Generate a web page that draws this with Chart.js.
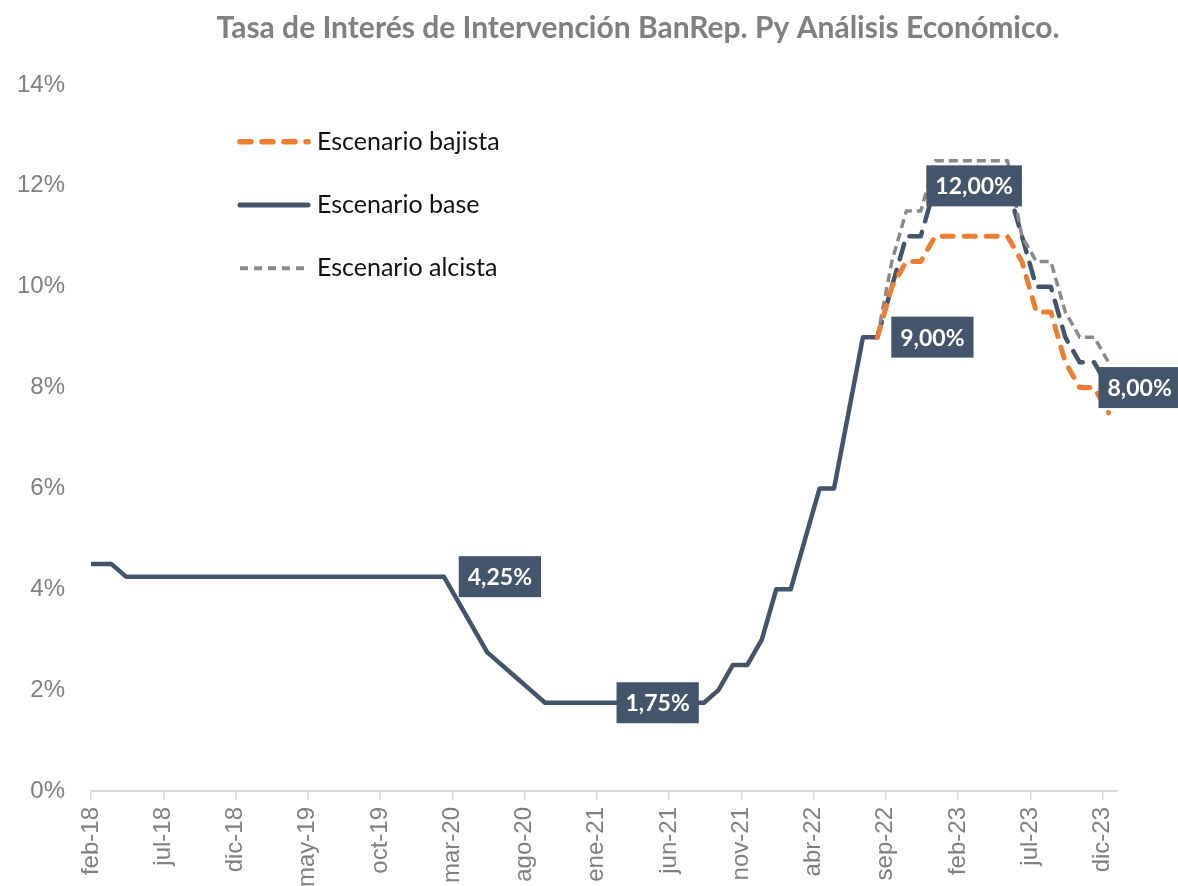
<!DOCTYPE html>
<html lang="es">
<head>
<meta charset="utf-8">
<title>Tasa de Interés de Intervención BanRep</title>
<script src="https://cdn.jsdelivr.net/npm/chart.js@4.4.1/dist/chart.umd.min.js"></script>
<style>
  html, body { margin: 0; padding: 0; background: #fff; }
</style>
</head>
<body>
<canvas id="tasa-chart" width="1178" height="886"></canvas>
<script>
"use strict";

/* datos */
var chartTitle = "Tasa de Interés de Intervención BanRep. Py Análisis Económico.";
var tickLabels = ["feb-18", "jul-18", "dic-18", "may-19", "oct-19", "mar-20", "ago-20", "ene-21",
    "jun-21", "nov-21", "abr-22", "sep-22", "feb-23", "jul-23", "dic-23"];
var tickStep = 5;      // one label every 5 months
var lastMonth = 71;    // axis runs one month past dic-23

// Escenario base, monthly from feb-18 to dic-23
var base = [
    4.5, 4.5, 4.25, 4.25, 4.25, 4.25, 4.25, 4.25, 4.25, 4.25, 4.25,               // 2018
    4.25, 4.25, 4.25, 4.25, 4.25, 4.25, 4.25, 4.25, 4.25, 4.25, 4.25, 4.25,       // 2019
    4.25, 4.25, 3.75, 3.25, 2.75, 2.5, 2.25, 2.0, 1.75, 1.75, 1.75, 1.75,         // 2020
    1.75, 1.75, 1.75, 1.75, 1.75, 1.75, 1.75, 1.75, 2.0, 2.5, 2.5, 3.0,           // 2021
    4.0, 4.0, 5.0, 6.0, 6.0, 7.5, 9.0, 9.0, 10.0, 11.0, 11.0, 12.0,               // 2022
    12.0, 12.0, 12.0, 12.0, 12.0, 11.0, 10.0, 10.0, 9.0, 8.5, 8.5, 8.0            // 2023
];
var forecastStart = 54; // ago-22: scenarios split from here
var bajista = [9.0, 10.0, 10.5, 10.5, 11.0, 11.0, 11.0, 11.0, 11.0, 11.0, 10.5, 9.5, 9.5, 8.5, 8.0, 8.0, 7.5];
var alcista = [9.0, 10.5, 11.5, 11.5, 12.5, 12.5, 12.5, 12.5, 12.5, 12.5, 11.0, 10.5, 10.5, 9.5, 9.0, 9.0, 8.5];
var seriesNames = ["Escenario bajista", "Escenario base", "Escenario alcista"];

var navy = "#44546A";
var orange = "#ED7D31";
var grey = "#8A8A8A";

// observations sit mid-month, except the very first one at the start of the axis
function monthPos(i) {
    return i === 0 ? 0 : i + 0.42;
}
function toPoints(values, start) {
    return values.map(function (v, k) {
        return { x: monthPos(start + k), y: v };
    });
}
function fmt(v) {
    return v.toFixed(2).replace(".", ",") + "%";
}

/* callouts, title and legend drawn on top */
var calloutSpots = [
    { index: 24, dx: 56 },
    { index: 39, dx: -3 },
    { index: 54, dx: 55 },
    { index: 60, dx: 10 },
    { index: 70, dx: 31 }
];
var decorations = {
    id: "decorations",
    afterDatasetsDraw: function (chart) {
        var ctx = chart.ctx;
        var meta = chart.getDatasetMeta(1);
        ctx.save();

        // title
        ctx.font = "bold 30px Lato";
        ctx.fillStyle = "#808080";
        ctx.textAlign = "center";
        ctx.textBaseline = "middle";
        ctx.fillText(chartTitle, 638, 28);

        // legend
        var rows = [141.7, 205, 268.3];
        chart.data.datasets.forEach(function (ds, n) {
            var y = rows[n];
            ctx.beginPath();
            ctx.setLineDash(ds.legendDash);
            ctx.lineCap = ds.borderCapStyle;
            ctx.lineWidth = ds.borderWidth + 0.5;
            ctx.strokeStyle = ds.borderColor;
            ctx.moveTo(240, y);
            ctx.lineTo(308, y);
            ctx.stroke();
            ctx.setLineDash([]);
            ctx.font = "25px Lato";
            ctx.fillStyle = "#111";
            ctx.textAlign = "left";
            ctx.fillText(ds.label, 317, y);
        });

        // value boxes on the base scenario
        ctx.font = "bold 23px Lato";
        calloutSpots.forEach(function (spot) {
            var pt = meta.data[spot.index];
            var text = fmt(base[spot.index]);
            var w = ctx.measureText(text).width + 18;
            var h = 41;
            var cx = pt.x + spot.dx;
            ctx.fillStyle = navy;
            ctx.fillRect(cx - w / 2, pt.y - h / 2, w, h);
            ctx.fillStyle = "#fff";
            ctx.textAlign = "center";
            ctx.fillText(text, cx, pt.y + 1);
        });
        ctx.restore();
    }
};

var myCanvas = document.getElementById("tasa-chart");
var myChart = new Chart(myCanvas, {
    type: "line",
    data: {
        datasets: [
            {
                label: seriesNames[0],
                data: toPoints(bajista, forecastStart),
                borderColor: orange,
                borderWidth: 5,
                borderDash: [11, 11],
                legendDash: [11, 11],
                borderCapStyle: "round",
                order: 1
            },
            {
                label: seriesNames[1],
                data: toPoints(base, 0),
                borderColor: navy,
                borderWidth: 4.5,
                borderCapStyle: "round",
                legendDash: [],
                segment: {
                    borderDash: function (c) {
                        return c.p0DataIndex >= forecastStart ? [16, 11] : [];
                    }
                },
                order: 3
            },
            {
                label: seriesNames[2],
                data: toPoints(alcista, forecastStart),
                borderColor: grey,
                borderWidth: 3.5,
                borderDash: [9, 5],
                legendDash: [8, 6],
                borderCapStyle: "butt",
                order: 2
            }
        ]
    },
    options: {
        responsive: false,
        animation: false,
        layout: { padding: { top: 85, right: 61, left: 0, bottom: 0 } },
        elements: {
            point: { radius: 0 },
            line: { tension: 0, borderJoinStyle: "round" }
        },
        plugins: {
            legend: { display: false },
            title: { display: false },
            tooltip: { enabled: false }
        },
        scales: {
            x: {
                type: "linear",
                min: 0,
                max: lastMonth,
                afterFit: function (scale) { scale.height = 95; },
                afterBuildTicks: function (scale) {
                    scale.ticks = tickLabels.map(function (l, k) {
                        return { value: k * tickStep };
                    });
                },
                ticks: {
                    autoSkip: false,
                    maxRotation: 90,
                    minRotation: 90,
                    padding: 7,
                    color: "#808080",
                    font: { family: "Liberation Sans", size: 24 },
                    callback: function (value) {
                        return tickLabels[Math.round(value / tickStep)];
                    }
                },
                grid: {
                    drawOnChartArea: false,
                    drawTicks: true,
                    tickLength: 9,
                    color: "#D9D9D9",
                    lineWidth: 1.5
                },
                border: { display: true, color: "#D9D9D9", width: 2 }
            },
            y: {
                min: 0,
                max: 14,
                afterFit: function (scale) { scale.width = 91; },
                ticks: {
                    stepSize: 2,
                    padding: 26,
                    color: "#808080",
                    font: { family: "Liberation Sans", size: 24 },
                    callback: function (value) { return value + "%"; }
                },
                grid: { display: false, drawTicks: false },
                border: { display: false }
            }
        }
    },
    plugins: [decorations]
});
</script>
</body>
</html>
